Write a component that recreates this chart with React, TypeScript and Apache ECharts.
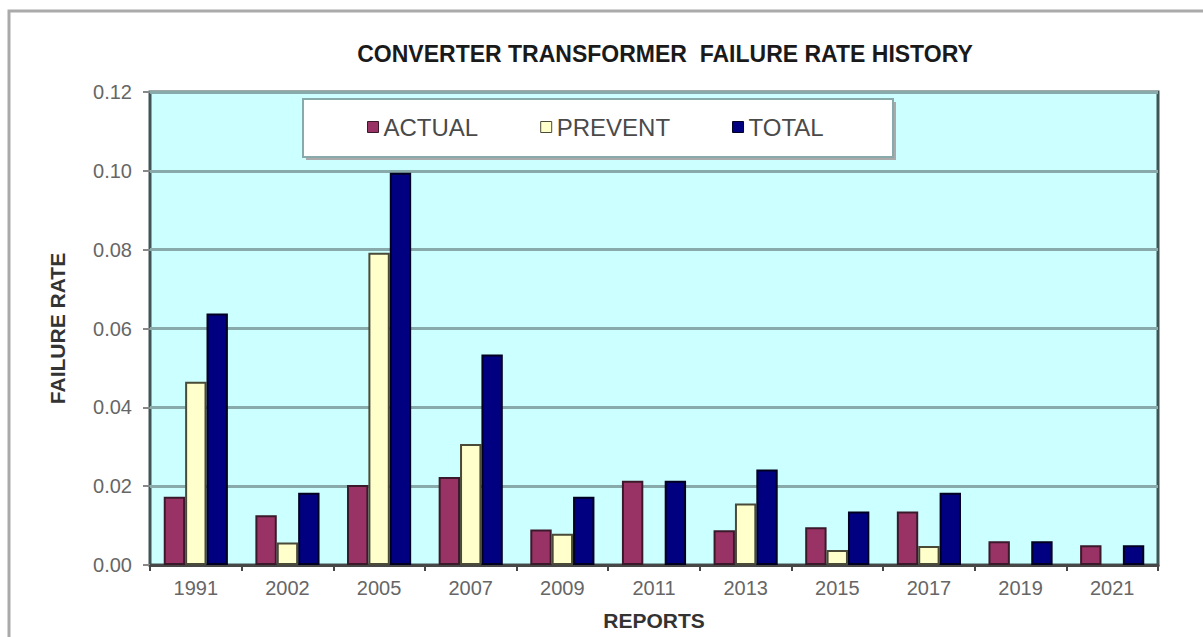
import React, { useEffect, useRef } from "react";
import * as echarts from "echarts";

const categories = ["1991", "2002", "2005", "2007", "2009", "2011", "2013", "2015", "2017", "2019", "2021"];
const actualValues = [0.0173, 0.0126, 0.0203, 0.0223, 0.009, 0.0214, 0.0088, 0.0096, 0.0136, 0.006, 0.005];
const preventValues = [0.0465, 0.0057, 0.0792, 0.0307, 0.0079, null, 0.0156, 0.0038, 0.0048, null, null];
const totalValues = [0.0638, 0.0183, 0.0995, 0.0534, 0.0173, 0.0214, 0.0242, 0.0136, 0.0183, 0.006, 0.005];
const seriesNames = ["ACTUAL", "PREVENT", "TOTAL"];
const seriesColors = ["#993366", "#FFFFCC", "#000080"];
const seriesBorders = ["#3a1a2a", "#4a4a38", "#000022"];
const yTicks = { min: 0, max: 0.12, interval: 0.02 };

const FONT = "'Liberation Sans', Arial, sans-serif";

export default function App() {
  const ref = useRef<HTMLDivElement>(null);
  useEffect(() => {
    document.body.style.margin = "0";
    if (!ref.current) return;
    const chart = echarts.init(ref.current, null, { renderer: "svg" });
    const data = [actualValues, preventValues, totalValues];
    chart.setOption({
      animation: false,
      backgroundColor: "#ffffff",
      textStyle: { fontFamily: FONT },
      title: {
        text: "CONVERTER TRANSFORMER  FAILURE RATE HISTORY",
        left: 660,
        textAlign: "center",
        top: 37,
        textStyle: { fontFamily: FONT, fontSize: 23, fontWeight: "bold", color: "#1a1a1a" },
      },
      graphic: [
        {
          type: "rect",
          shape: { x: 9, y: 11, width: 1300, height: 700 },
          style: { fill: "none", stroke: "#aaaaaa", lineWidth: 3 },
          silent: true,
          z: -10,
        },
        {
          type: "rect",
          shape: { x: 306, y: 102, width: 590, height: 58 },
          style: { fill: "#aaaaaa" },
          silent: true,
          z: 5,
        },
        {
          type: "rect",
          shape: { x: 303, y: 99, width: 590, height: 58 },
          style: { fill: "#ffffff", stroke: "#88aaaa", lineWidth: 2 },
          silent: true,
          z: 6,
        },
      ],
      legend: {
        data: seriesNames,
        left: 367,
        top: 115,
        padding: 0,
        itemGap: 62,
        itemWidth: 11,
        itemHeight: 11,
        z: 10,
        icon: "rect",
        itemStyle: { borderWidth: 1 },
        textStyle: { fontFamily: FONT, fontSize: 24, color: "#4a4a4a" },
      },
      grid: {
        left: 150,
        right: 45,
        top: 92,
        bottom: 72,
        show: true,
        backgroundColor: "#CCFFFF",
        borderColor: "#405454",
        borderWidth: 3,
      },
      xAxis: {
        type: "category",
        data: categories,
        name: "REPORTS",
        nameLocation: "middle",
        nameGap: 45,
        nameTextStyle: { fontFamily: FONT, fontSize: 21, fontWeight: "bold", color: "#333333" },
        axisLine: { lineStyle: { color: "#474747", width: 3 } },
        axisTick: { show: true, length: 6, lineStyle: { color: "#474747", width: 2 } },
        axisLabel: { fontFamily: FONT, fontSize: 20, color: "#666666", margin: 13 },
      },
      yAxis: {
        type: "value",
        min: yTicks.min,
        max: yTicks.max,
        interval: yTicks.interval,
        name: "FAILURE RATE",
        nameLocation: "middle",
        nameRotate: 90,
        nameGap: 82,
        nameTextStyle: { fontFamily: FONT, fontSize: 21, fontWeight: "bold", color: "#333333" },
        axisLine: { show: false },
        axisTick: { show: true, length: 7, lineStyle: { color: "#888888", width: 2 } },
        axisLabel: {
          fontFamily: FONT,
          fontSize: 20,
          color: "#666666",
          margin: 18,
          formatter: (v: number) => v.toFixed(2),
        },
        splitLine: { show: true, lineStyle: { color: "#88AAAA", width: 3 } },
      },
      series: seriesNames.map((name, i) => ({
        name,
        type: "bar",
        data: data[i],
        barGap: "0%",
        barCategoryGap: "30%",
        itemStyle: { color: seriesColors[i], borderColor: seriesBorders[i], borderWidth: 2 },
      })),
    });
    return () => chart.dispose();
  }, []);
  return <div ref={ref} style={{ width: 1203, height: 637 }} />;
}
